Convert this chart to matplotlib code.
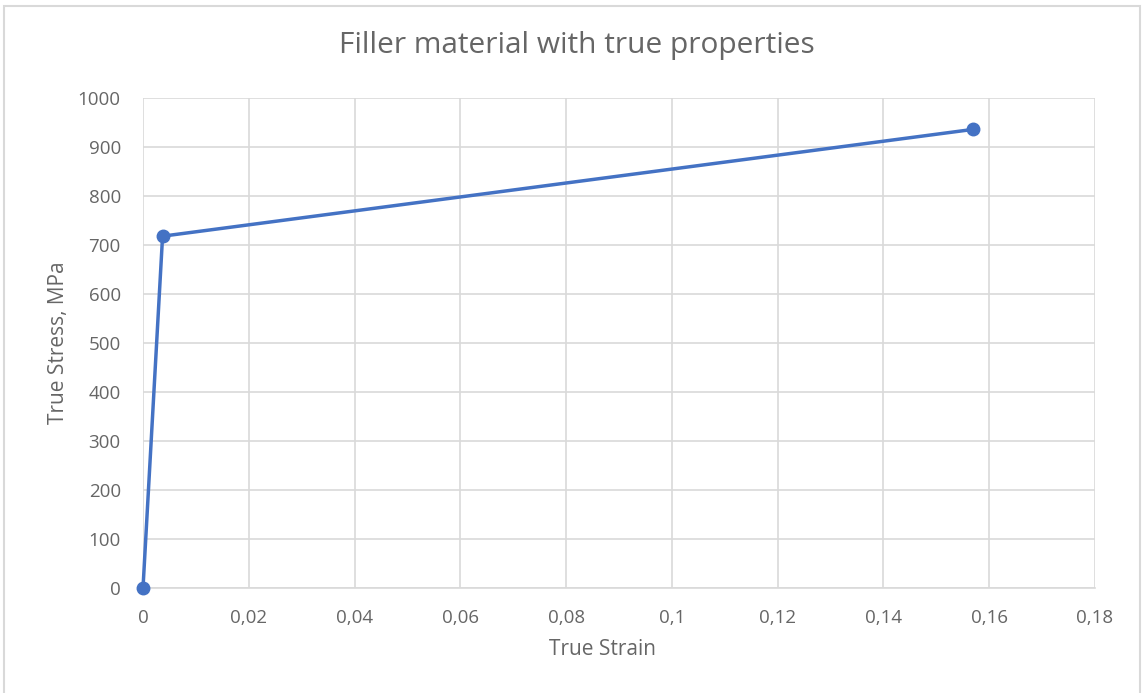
import matplotlib.pyplot as plt
from matplotlib.patches import Rectangle
from matplotlib.ticker import FuncFormatter, MultipleLocator

#### __data__ ####

strain = [0, 0.0037, 0.157]
stress = [0, 718, 936]

title = "Filler material with true properties"
x_label = "True Strain"
y_label = "True Stress, MPa"

#### __style__ ####

plt.rcParams['font.family'] = ['Open Sans', 'DejaVu Sans']
text_gray = "#666666"
grid_gray = "#d9d9d9"
line_blue = "#4472c4"


# decimal comma formatter, like the Excel original
def comma_fmt(val, pos):
    s = f"{val:.2f}".rstrip("0").rstrip(".")
    return s.replace(".", ",")


fig = plt.figure(figsize=(11.47, 6.93), dpi=100)
fig.patch.set_facecolor("white")

# outer chart border
fig.patches.append(Rectangle((4 / 1147, -0.01), 1136 / 1147, 1 - 6 / 693 + 0.01,
                             transform=fig.transFigure, fill=False,
                             edgecolor=grid_gray, linewidth=1.5))

ax = fig.add_axes([143 / 1147, 1 - 588 / 693, 952 / 1147, 490 / 693])
ax.plot(strain, stress, color=line_blue, linewidth=2.5, marker="o",
        markersize=9, zorder=3, clip_on=False)

ax.set_xlim(0, 0.18)
ax.set_ylim(0, 1000)
ax.xaxis.set_major_locator(MultipleLocator(0.02))
ax.yaxis.set_major_locator(MultipleLocator(100))
ax.xaxis.set_major_formatter(FuncFormatter(comma_fmt))

ax.grid(True, color=grid_gray, linewidth=1.2)
ax.set_axisbelow(True)
for side in ["top", "right", "left"]:
    ax.spines[side].set_visible(False)
ax.spines["bottom"].set_color(grid_gray)
ax.spines["bottom"].set_linewidth(1.2)
ax.tick_params(length=0, colors=text_gray, labelsize=13.5)
ax.tick_params(axis="y", pad=16)
ax.tick_params(axis="x", pad=15)

# title sits a bit left of the plot centre in the original
fig.text(577 / 1147, 1 - 46 / 693, title, color=text_gray, fontsize=21.5,
         ha="center", va="center")
ax.set_xlabel(x_label, color=text_gray, fontsize=15)
ax.xaxis.set_label_coords(0.483, -0.105)
ax.set_ylabel(y_label, color=text_gray, fontsize=15, labelpad=6)

fig.savefig("out.png", dpi=100)
